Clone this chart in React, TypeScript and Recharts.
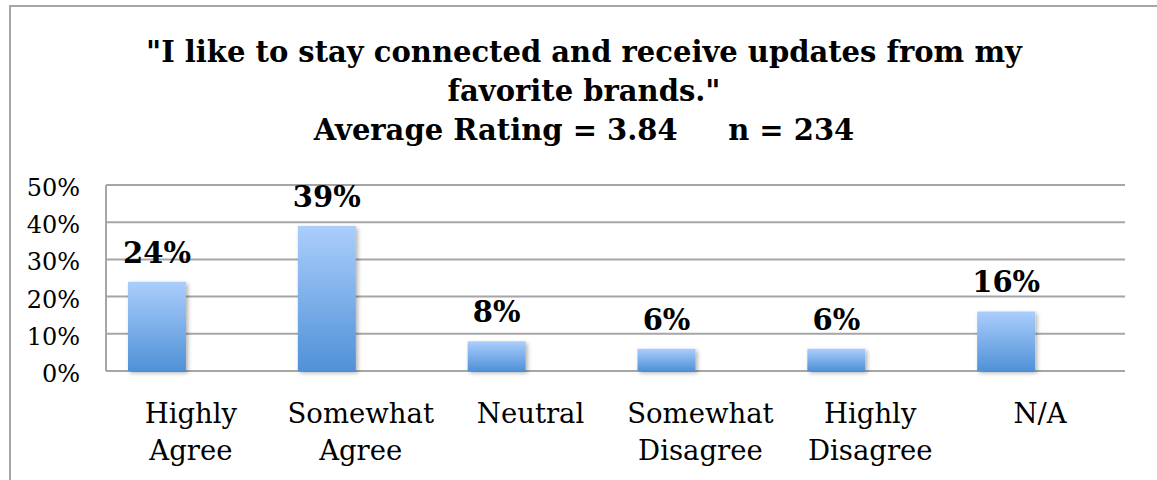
import React from 'react';
import { BarChart, Bar, XAxis, YAxis, CartesianGrid, LabelList } from 'recharts';

const categories = ['Highly Agree', 'Somewhat Agree', 'Neutral', 'Somewhat Disagree', 'Highly Disagree', 'N/A'];
const shares = [0.24, 0.39, 0.08, 0.06, 0.06, 0.16];
const yTicks = [0, 0.1, 0.2, 0.3, 0.4, 0.5];

const titleLines = [
  '"I like to stay connected and receive updates from my',
  'favorite brands."',
  'Average Rating = 3.84\u00a0\u00a0\u00a0\u00a0\u00a0n = 234',
];

const chartData = categories.map((name, i) => ({ name, share: shares[i] }));

const serif = '"DejaVu Serif", serif';
const gridColor = '#a6a6a6';

function CategoryTick({ x, y, payload }: any) {
  // wrap each word onto its own line like the original
  const words = String(payload.value).split(' ');
  return (
    <text x={x} y={y} textAnchor="middle" fontFamily={serif} fontSize={27.5} fill="#000">
      {words.map((w, i) => (
        <tspan key={i} x={x} dy={i === 0 ? 52 : 37}>
          {w}
        </tspan>
      ))}
    </text>
  );
}

function PercentTick({ x, y, payload }: any) {
  return (
    <text x={x} y={y} dy={11} textAnchor="end" fontFamily={serif} fontSize={24} fill="#000">
      {`${Math.round(payload.value * 100)}%`}
    </text>
  );
}

export default function App() {
  return (
    <div style={{ position: 'absolute', left: 0, top: 0, width: 1157, height: 480, overflow: 'hidden', background: '#fff' }}>
      <div
        style={{
          position: 'absolute',
          left: 9,
          top: 5,
          width: 1200,
          height: 500,
          borderTop: `2px solid ${gridColor}`,
          borderLeft: `2px solid ${gridColor}`,
        }}
      />
      <div
        style={{
          position: 'absolute',
          left: 0,
          top: 33,
          width: 1168,
          textAlign: 'center',
          fontFamily: serif,
          fontWeight: 'bold',
          fontSize: 29,
          lineHeight: '39px',
          color: '#000',
        }}
      >
        {titleLines.map((line, i) => (
          <div key={i}>{line}</div>
        ))}
      </div>
      <BarChart
        width={1157}
        height={480}
        data={chartData}
        margin={{ top: 185, right: 32, bottom: 0, left: 0 }}
        barGap={0}
        style={{ position: 'absolute', left: 0, top: 0 }}
      >
        <defs>
          <linearGradient id="barFill" x1="0" y1="0" x2="0" y2="1">
            <stop offset="0%" stopColor="#abcefc" />
            <stop offset="100%" stopColor="#4f91d7" />
          </linearGradient>
          <filter id="barShadow" x="-20%" y="-20%" width="150%" height="150%">
            <feDropShadow dx="2" dy="2" stdDeviation="2" floodColor="#000" floodOpacity="0.3" />
          </filter>
        </defs>
        <CartesianGrid vertical={false} stroke={gridColor} strokeWidth={2} />
        <XAxis
          dataKey="name"
          interval={0}
          axisLine={false}
          tickLine={false}
          tickSize={0}
          tickMargin={0}
          height={109}
          tick={<CategoryTick />}
        />
        <YAxis
          domain={[0, 0.5]}
          ticks={yTicks}
          interval={0}
          width={106}
          axisLine={{ stroke: gridColor, strokeWidth: 2 }}
          tickLine={false}
          tickSize={0}
          tickMargin={26}
          tick={<PercentTick />}
        />
        <Bar
          dataKey="share"
          barSize={58}
          fill="url(#barFill)"
          filter="url(#barShadow)"
          isAnimationActive={false}
        >
          <LabelList
            dataKey="share"
            position="top"
            offset={19}
            formatter={(v: any) => `${Math.round(v * 100)}%`}
            style={{ fontFamily: serif, fontWeight: 'bold', fontSize: 29, fill: '#000' }}
          />
        </Bar>
        {/* empty second series of the original clustered chart */}
        <Bar dataKey="blank" barSize={68} fill="none" isAnimationActive={false} />
      </BarChart>
    </div>
  );
}
